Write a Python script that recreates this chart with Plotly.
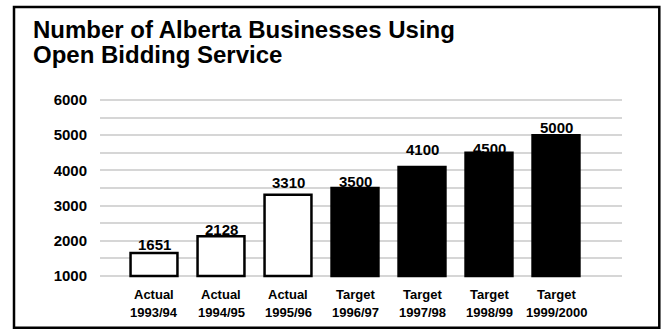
import plotly.graph_objects as go

# Data
periods = ["1993/94", "1994/95", "1995/96", "1996/97", "1997/98", "1998/99", "1999/2000"]
kinds = ["Actual", "Actual", "Actual", "Target", "Target", "Target", "Target"]
businesses = [1651, 2128, 3310, 3500, 4100, 4500, 5000]
y_ticks = [1000, 2000, 3000, 4000, 5000, 6000]

# small upward nudges (px) of each value label above its bar
label_lift = [3, 1, 7, 1, 12, -1, 2]

Y_MIN, Y_MAX = 1000, 6000
Y_PAD = 85  # headroom beyond the first/last gridline so both get drawn
W, H = 661, 329
L, R, T, B = 100, 39, 97, 50
FONT = "Liberation Sans, Arial, sans-serif"
GRID = "#d6d6d6"


def px_x(px):
    return (px - L) / (W - L - R)


def px_y(py):
    return (H - B - py) / (H - T - B)


fills = ["white" if k == "Actual" else "black" for k in kinds]

fig = go.Figure(
    go.Bar(
        x=periods,
        y=[v - Y_MIN for v in businesses],
        base=Y_MIN,
        width=0.70,
        marker=dict(color=fills, line=dict(color="black", width=2.5)),
        hovertemplate="%{x}: %{customdata}<extra></extra>",
        customdata=businesses,
    )
)

annotations = []

# Two-line title
title_font = dict(family=FONT, size=24, color="black", weight="bold")
annotations.append(dict(text="Number of Alberta Businesses Using", x=px_x(31), y=px_y(29.5),
                        xref="paper", yref="paper", xanchor="left", yanchor="middle",
                        showarrow=False, font=title_font))
annotations.append(dict(text="Open Bidding Service", x=px_x(31), y=px_y(54.5),
                        xref="paper", yref="paper", xanchor="left", yanchor="middle",
                        showarrow=False, font=title_font))

# Value labels above the bars
for p, v, lift in zip(periods, businesses, label_lift):
    annotations.append(dict(text=str(v), x=p, y=v, xref="x", yref="y", xanchor="center",
                            yanchor="bottom", yshift=lift - 4, borderpad=0, showarrow=False,
                            font=dict(family=FONT, size=15, color="black", weight="bold")))

# Category labels (two rows)
cat_font = dict(family=FONT, size=13, color="black", weight="bold")
for p, k in zip(periods, kinds):
    annotations.append(dict(text=k, x=p, y=px_y(294), xref="x", yref="paper",
                            xanchor="center", yanchor="middle", showarrow=False, font=cat_font))
    annotations.append(dict(text=p, x=p, y=px_y(312.5), xref="x", yref="paper",
                            xanchor="center", yanchor="middle", showarrow=False, font=cat_font))

# Outer frame
shapes = [dict(type="rect", xref="paper", yref="paper",
               x0=px_x(14), x1=px_x(659.3), y0=px_y(327.7), y1=px_y(7),
               line=dict(color="black", width=2.5), fillcolor="rgba(0,0,0,0)", layer="above")]

fig.update_layout(
    width=W, height=H,
    margin=dict(l=L, r=R, t=T, b=B, pad=0),
    paper_bgcolor="white", plot_bgcolor="white",
    showlegend=False,
    annotations=annotations,
    shapes=shapes,
    xaxis=dict(range=[-0.806, 6.985], showticklabels=False, showgrid=False,
               zeroline=False, showline=False, fixedrange=True),
    yaxis=dict(range=[Y_MIN - Y_PAD, Y_MAX + Y_PAD], tickmode="array", tickvals=y_ticks,
               showgrid=True, gridcolor=GRID, gridwidth=2,
               minor=dict(tick0=0, dtick=500, showgrid=True, gridcolor=GRID, gridwidth=2),
               zeroline=False, showline=False, ticks="", ticklabelstandoff=12,
               tickfont=dict(family=FONT, size=15, color="black", weight="bold"),
               fixedrange=True),
)

fig.write_html("out.html")
